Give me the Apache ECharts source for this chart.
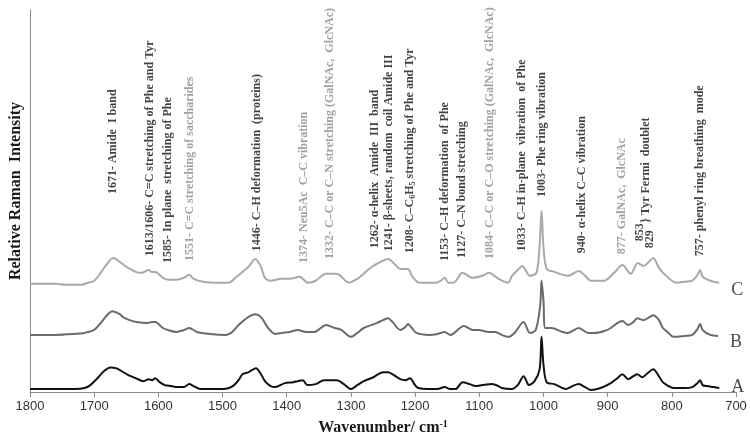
<!DOCTYPE html>
<html>
<head>
<meta charset="utf-8">
<script src="https://cdn.jsdelivr.net/npm/echarts@6/dist/echarts.min.js"></script>
<style>
  html, body { margin: 0; padding: 0; background: #fff; }
  #chart { width: 750px; height: 441px; }
</style>
</head>
<body>
<div id="chart"></div>
<script>
// spectrum A (black) - wavenumber / relative intensity above its own baseline
var waveA = [1800,1760,1730,1715,1706,1695,1685,1675,1665,1649,1635,1623,1615,1610,1605,1598,1590,1580,1570,1560,
  1552,1545,1535,1520,1500,1490,1482,1475,1469,1460,1455,1448,1440,1434,1425,1418,1403,1390,1383,1375,
  1368,1355,1342,1330,1322,1311,1300,1290,1280,1265,1250,1242,1235,1223,1215,1208,1200,1195,1180,1165,
  1154,1145,1137,1126,1115,1106,1095,1080,1070,1065,1050,1040,1031,1025,1023,1014,1006,1003,1000,995,
  983,965,955,945,935,926,911,895,885,877,868,860,854,846,838,829,822,814,805,798,
  780,768,760,756,752,745,735,726];
var intA = [0,0,0,1,4,11,18,22,21,15,11,8,10,9,11,7,4,3,2,2,
  5,3,0,0,0,1,4,9,15,17,19,21,15,8,3,2,6,7,8,9,
  4,5,9,9,9,5,0,4,8,12,17,17,15,10,9,11,4,1,0,0,
  2,0,0,7,5,3,4,5,3,1,0,4,13,6,4,8,20,53,25,7,
  5,0,3,5,2,-1,1,6,11,15,10,13,15,12,16,20,15,7,3,1,
  1,2,6,9,4,3,2,1];

// spectrum B (dark grey)
var waveB = [1800,1760,1730,1715,1700,1690,1680,1672,1660,1655,1645,1634,1618,1610,1605,1593,1585,1572,1560,1552,
  1540,1520,1495,1485,1475,1460,1449,1440,1429,1418,1408,1395,1383,1370,1357,1345,1339,1325,1315,1300,
  1290,1280,1260,1250,1242,1235,1223,1215,1211,1205,1198,1178,1165,1154,1145,1124,1110,1101,1085,1075,
  1065,1055,1045,1031,1021,1012,1005,1003,1000,997,988,970,962,945,930,921,905,895,885,877,
  868,860,854,844,835,829,820,814,805,798,780,768,760,756,752,740,728];
var intB = [0,0,1,2,5,12,20,24,21,18,15,13,12,13,13,7,5,3,5,7,
  3,1,0,3,10,18,21,18,7,1,2,3,5,3,3,8,10,7,5,-2,
  2,7,12,15,17,13,5,8,11,7,2,0,1,3,0,9,5,5,3,3,
  0,-2,2,13,2,5,30,55,35,7,7,3,2,7,2,2,4,7,12,14,
  10,13,17,15,18,20,15,7,2,-2,-1,0,6,11,5,0,-1];

// spectrum C (light grey)
var waveC = [1800,1760,1745,1737,1720,1710,1700,1690,1680,1670,1660,1649,1635,1626,1615,1610,1605,1593,1583,1572,
  1560,1552,1545,1530,1510,1490,1480,1469,1460,1449,1440,1434,1425,1408,1395,1380,1367,1355,1339,1325,
  1318,1303,1290,1280,1270,1260,1242,1232,1223,1211,1205,1193,1167,1160,1154,1148,1140,1126,1111,1095,
  1085,1070,1055,1049,1040,1033,1021,1011,1006,1003,1000,995,983,962,945,935,926,906,890,877,
  864,853,844,836,829,820,809,793,780,768,760,756,752,740,726];
var intC = [0,0,-1,-1,-1,1,3,11,20,26,22,17,12,11,14,12,12,6,4,4,
  6,9,5,2,1,1,6,12,17,25,17,6,3,5,5,7,1,3,10,10,
  9,1,5,10,16,20,25,20,15,15,8,1,1,3,6,1,1,11,6,8,
  11,5,1,8,14,18,8,11,38,74,38,15,12,8,13,8,3,3,11,19,
  10,21,18,22,26,16,8,1,2,3,9,14,7,3,1];

var sampleNames = ['A', 'B', 'C'];
var sampleOffsets = [5, 60, 112];
var sampleColors = ['#111111', '#6a6a6a', '#a9a9a9'];

// band assignments: wavenumber position, height of label foot, text, grey = saccharide bands
var bandPos = [1671,1613,1585,1551,1446,1374,1332,1262,1241,1208,1153,1127,1084,1033,1003,940,877,849,834,841,757];
var bandFoot = [203,140,133,135,145,133,137,148,145,143,135,138,137,145,200,143,142,155,148,174,140];
var bandText = [
  '1671- Amide  I band',
  '1613/1606- C=C stretching of Phe and Tyr',
  '1585- In plane  stretching of Phe',
  '1551- C=C stretching of saccharides',
  '1446- C\u2013H deformation  (proteins)',
  '1374- Neu5Ac  C\u2013C vibration',
  '1332- C\u2013C or C\u2013N stretching (GalNAc,  GlcNAc)',
  '1262- \u03b1-helix  Amide  III  band',
  '1241- \u03b2-sheets, random  coil Amide III',
  '1208- C\u2013C{sub|6}H{sub|5} stretching of Phe and Tyr',
  '1153- C\u2013H deformation  of Phe',
  '1127- C\u2013N bond stretching',
  '1084- C\u2013C or C\u2013O stretching (GalNAc,  GlcNAc)',
  '1033- C\u2013H in-plane  vibration  of Phe',
  '1003- Phe ring vibration',
  '940- \u03b1-helix C\u2013C vibration',
  '877- GalNAc,  GlcNAc',
  '853',
  '829',
  '} Tyr Fermi  doublet',
  '757- phenyl ring breathing  mode'
];
var bandGrey = [0,0,0,1,0,1,1,0,0,0,0,0,1,0,0,0,1,0,0,0,0];

var waves = [waveA, waveB, waveC];
var ints = [intA, intB, intC];
var sampleLabelShift = [[0, -1], [0, 6], [0, 8]];

var series = [];
var endPoints = [];
for (var s = 0; s < 3; s++) {
  var pts = [];
  for (var i = 0; i < waves[s].length; i++) {
    pts.push([waves[s][i], ints[s][i] + sampleOffsets[s]]);
  }
  series.push({
    name: sampleNames[s],
    type: 'line',
    data: pts,
    symbol: 'none',
    smooth: 0.3,
    lineStyle: { color: sampleColors[s], width: 2 },
    z: 3 - s
  });
  var last = pts[pts.length - 1];
  endPoints.push({
    value: last,
    label: { formatter: sampleNames[s], offset: sampleLabelShift[s] }
  });
}

// A / B / C tags next to the end of each trace
series.push({
  name: 'samples',
  type: 'scatter',
  data: endPoints,
  symbolSize: 0,
  silent: true,
  label: {
    show: true,
    position: 'right',
    distance: 12,
    color: '#1a1a1a',
    fontFamily: 'Liberation Serif',
    fontSize: 18
  }
});

var bandData = [];
for (var j = 0; j < bandPos.length; j++) {
  bandData.push({
    value: [bandPos[j], bandFoot[j]],
    label: {
      formatter: bandText[j],
      color: bandGrey[j] ? '#8a8a8a' : '#111111'
    }
  });
}
series.push({
  name: 'bands',
  type: 'scatter',
  data: bandData,
  symbolSize: 0,
  silent: true,
  label: {
    show: true,
    position: 'inside',
    rotate: 90,
    align: 'left',
    verticalAlign: 'middle',
    fontFamily: 'Liberation Serif',
    fontWeight: 'bold',
    fontSize: 12,
    lineHeight: 14,
    rich: {
      sub: { fontSize: 8, fontFamily: 'Liberation Serif', fontWeight: 'bold', verticalAlign: 'bottom', lineHeight: 14, padding: [6, 0, 0, 0] }
    }
  }
});

var myChart = echarts.init(document.getElementById('chart'));
var option = {
  animation: false,
  backgroundColor: '#ffffff',
  grid: { left: 22, right: 14, top: 10, bottom: 43 },
  xAxis: {
    type: 'value',
    inverse: true,
    min: 700,
    max: 1800,
    interval: 100,
    name: 'Wavenumber/ cm{sup|-1}',
    nameLocation: 'middle',
    nameGap: 27,
    nameTextStyle: {
      fontFamily: 'Liberation Serif',
      fontWeight: 'bold',
      fontSize: 16,
      color: '#1a1a1a',
      rich: {
        sup: { fontFamily: 'Liberation Serif', fontWeight: 'bold', fontSize: 10, verticalAlign: 'top', padding: [0, 0, 8, 0] }
      }
    },
    axisLine: { lineStyle: { color: '#8c8c8c', width: 1 } },
    axisTick: { show: true, length: 5, lineStyle: { color: '#8c8c8c' } },
    axisLabel: {
      fontFamily: 'Liberation Sans',
      fontSize: 13,
      color: '#333',
      margin: 8,
      formatter: function (v) { return String(v); }
    },
    splitLine: { show: false }
  },
  yAxis: {
    type: 'value',
    min: 2,
    max: 390,
    name: 'Relative Raman  Intensity',
    nameLocation: 'middle',
    nameGap: 6,
    nameTextStyle: {
      fontFamily: 'Liberation Serif',
      fontWeight: 'bold',
      fontSize: 16,
      color: '#1a1a1a',
      padding: [0, 0, 0, 20]
    },
    axisLine: { show: true, lineStyle: { color: '#8c8c8c', width: 1 } },
    axisTick: { show: false },
    axisLabel: { show: false },
    splitLine: { show: false }
  },
  series: series
};
myChart.setOption(option);
</script>
</body>
</html>
